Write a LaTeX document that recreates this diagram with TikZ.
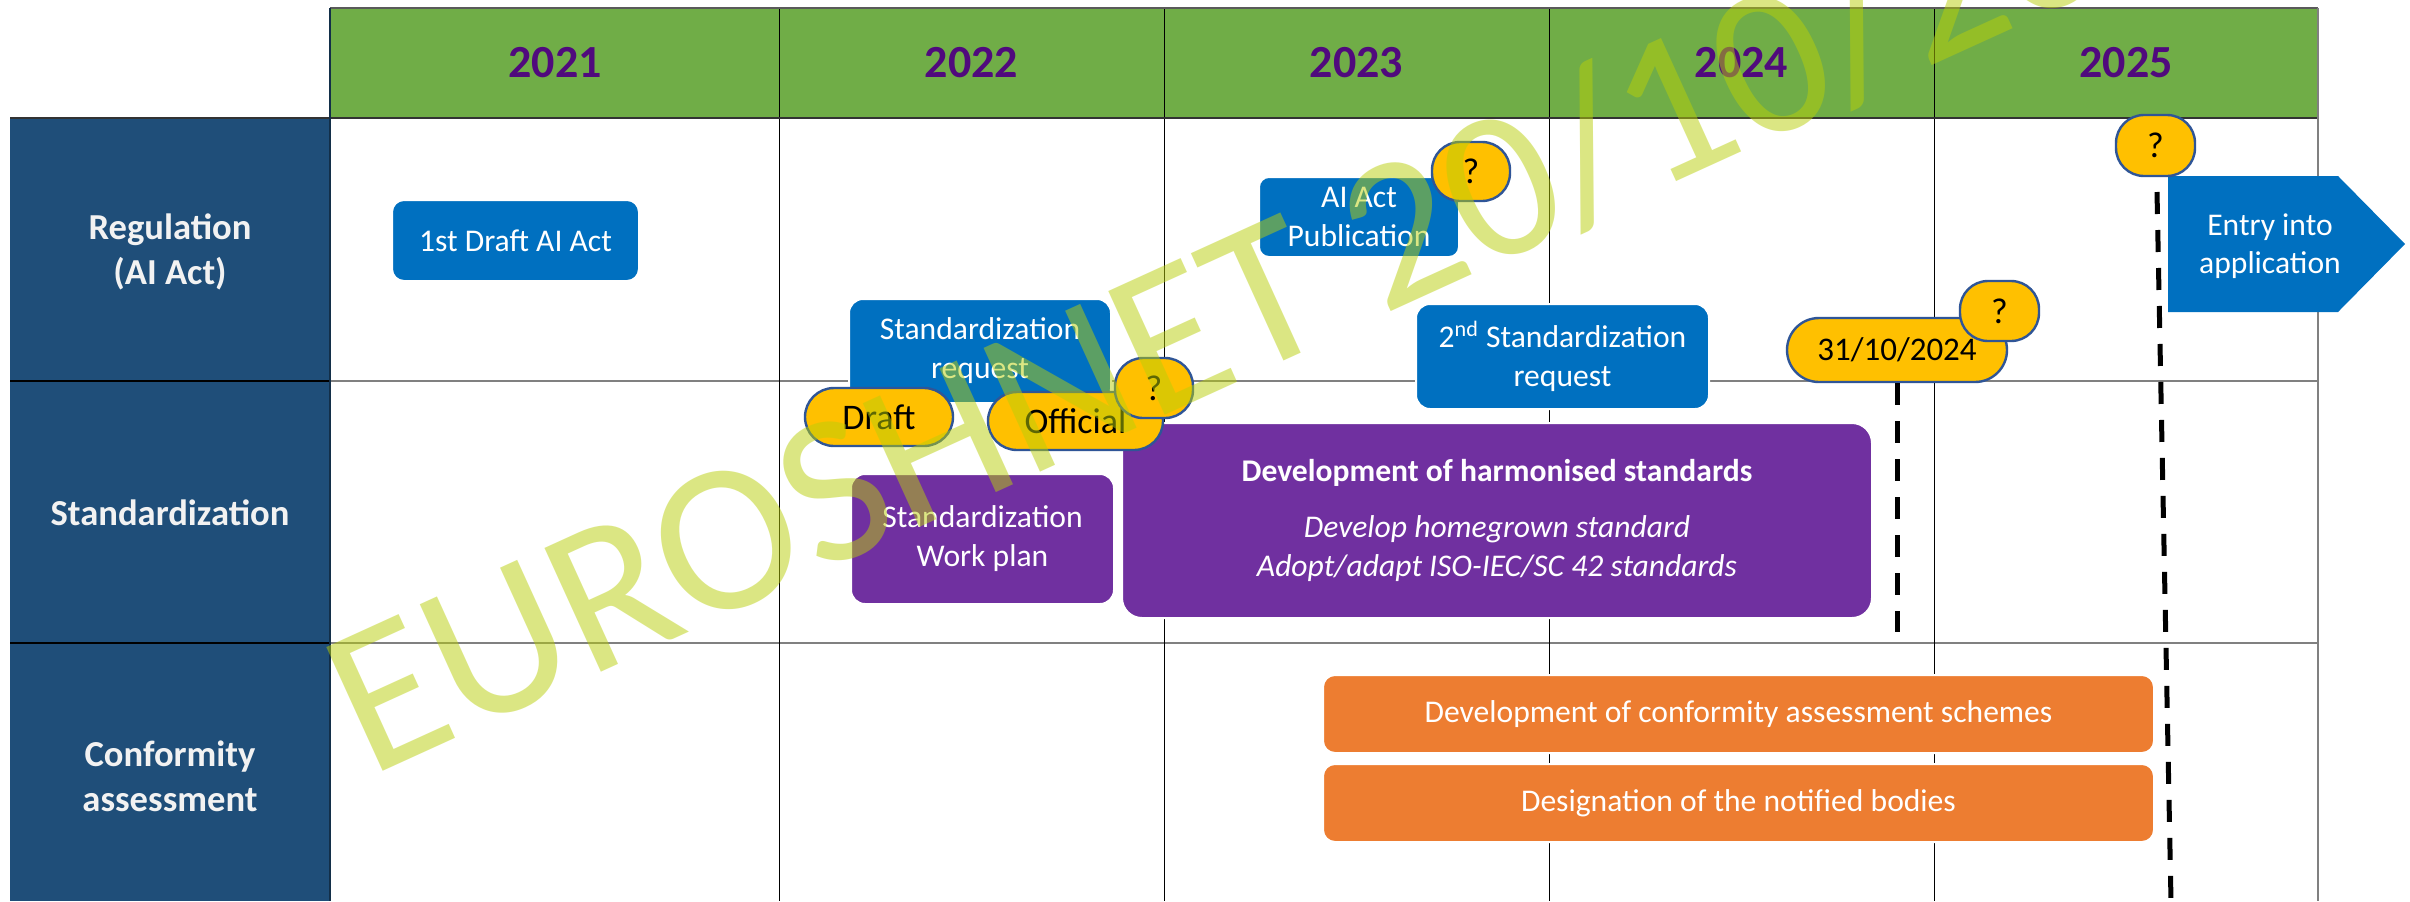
\documentclass[tikz,border=0pt]{standalone}
\usepackage{fontspec}
\setmainfont{Carlito}
\definecolor{hdrgreen}{RGB}{112,173,71}
\definecolor{navy}{RGB}{31,78,121}
\definecolor{boxblue}{RGB}{0,112,192}
\definecolor{boxpurple}{RGB}{112,48,160}
\definecolor{boxorange}{RGB}{237,125,49}
\definecolor{pillyellow}{RGB}{255,192,0}
\definecolor{pillborder}{RGB}{47,85,151}
\definecolor{yeartext}{RGB}{80,10,125}
\definecolor{labeltext}{RGB}{242,242,242}
\definecolor{wmark}{RGB}{185,207,9}
\definecolor{gridgray}{RGB}{128,128,128}
\tikzset{
  yearlabel/.style={text=yeartext, font=\fontsize{23}{27}\selectfont\bfseries, inner sep=0pt},
  rowlabel/.style={text=labeltext, font=\fontsize{18.3}{22.5}\selectfont\bfseries, align=center, inner sep=0pt},
  box/.style={rounded corners=6pt, inner sep=0pt, align=center, text=white,
              font=\fontsize{15.8}{19.5}\selectfont, draw=white, line width=1pt},
  bluebox/.style={box, fill=boxblue},
  purplebox/.style={box, fill=boxpurple},
  orangebox/.style={box, fill=boxorange},
  pill/.style={fill=pillyellow, draw=pillborder, line width=1.2pt, inner sep=0pt,
               text=black, font=\fontsize{18}{20}\selectfont},
  dashline/.style={draw=black, line width=2.5pt, dash pattern=on 11pt off 8pt},
  colline/.style={draw=black, line width=0.5pt},
  rowline/.style={draw=gridgray, line width=1pt},
}
\begin{document}
\begin{tikzpicture}[x=0.5pt, y=-0.5pt]
\useasboundingbox (0,0) rectangle (2410,901);
\clip (0,0) rectangle (2410,901);
\fill[white] (0,0) rectangle (2410,901);

% header and label column
\fill[hdrgreen] (330,8) rectangle (2318,118);
\fill[navy] (10,118) rectangle (330,901);

% grid lines
\draw[rowline] (330,381) -- (2318,381);
\draw[rowline] (330,643) -- (2318,643);
\draw[black, line width=1pt] (10,381) -- (330,381);
\draw[black, line width=1pt] (10,643) -- (330,643);
\foreach \cx in {779,1164,1549,1934} { \draw[colline] (\cx,8) -- (\cx,901); }
\draw[gridgray!70!black, line width=1pt] (330,8) -- (2318,8);
\draw[gridgray!40!black, line width=1pt] (10,118) -- (2318,118);
\draw[gridgray, line width=1pt] (2318,8) -- (2318,901);
\draw[navy!60!black, line width=0.8pt] (330,8) -- (330,901);

% years
\node[yearlabel] (y2021) at (555,63) {2021};
\node[yearlabel] (y2022) at (971.5,63) {2022};
\node[yearlabel] (y2023) at (1356.5,63) {2023};
\node[yearlabel] (y2024) at (1741.5,63) {2024};
\node[yearlabel] (y2025) at (2126,63) {2025};

% row labels
\node[rowlabel] (lreg) at (170,252) {Regulation\\(AI Act)};
\node[rowlabel] (lstd) at (170,513) {Standardization};
\node[rowlabel] (lconf) at (170,776) {Conformity\\assessment};

% boxes
\node[bluebox, minimum width=123.5pt, minimum height=40.5pt] (draftact) at (515.5,240.5) {1st Draft AI Act};
\node[bluebox, rounded corners=7pt, minimum width=131pt, minimum height=52pt] (stdreq) at (980,351) {Standardization\\request};
\node[purplebox, rounded corners=7pt, minimum width=131.5pt, minimum height=65pt] (workplan) at (982.5,539) {Standardization\\Work plan};
\node[purplebox, rounded corners=10pt, minimum width=375pt, minimum height=97.5pt] (harm) at (1497,520.5)
  {{\bfseries Development of harmonised standards}\\[8.5pt]
   {\itshape Develop homegrown standard}\\
   {\itshape Adopt/adapt ISO-IEC/SC 42 standards}};
\node[bluebox, rounded corners=5pt, minimum width=100pt, minimum height=40pt] (aipub) at (1359,217) {AI Act\\Publication};
\node[bluebox, rounded corners=7pt, minimum width=146.5pt, minimum height=52.5pt] (stdreq2) at (1562.5,356.5) {2\textsuperscript{nd} Standardization\\request};
\node[orangebox, minimum width=415.5pt, minimum height=39pt] (cas) at (1738.5,714) {Development of conformity assessment schemes};
\node[orangebox, minimum width=415.5pt, minimum height=39pt] (nb) at (1738.5,803) {Designation of the notified bodies};

% entry into application arrow
\fill[boxblue] (2168,176) -- (2338,176) -- (2405,244) -- (2338,312) -- (2168,312) -- cycle;
\node[text=white, font=\fontsize{15.8}{19}\selectfont, align=center, inner sep=0pt] (entry) at (2270,246) {Entry into\\application};

% pills
\node[pill, rounded corners=14.5pt, minimum width=74pt, minimum height=29pt] (draft) at (879,417) {Draft};
\node[pill, rounded corners=14.5pt, minimum width=87.5pt, minimum height=29pt] (official) at (1075.5,421) {Official};
\node[pill, rounded corners=14pt, minimum width=39pt, minimum height=30pt] (qoff) at (1154,388) {?};
\node[pill, rounded corners=14pt, minimum width=39pt, minimum height=29.5pt] (qpub) at (1471,171.5) {?};
\node[pill, rounded corners=16pt, minimum width=110pt, minimum height=32pt, font=\fontsize{16.5}{19}\selectfont] (date) at (1897,350) {31/10/2024};
\node[pill, rounded corners=14pt, minimum width=39.5pt, minimum height=30pt] (qdate) at (1999.5,311) {?};
\node[pill, rounded corners=14pt, minimum width=39.5pt, minimum height=30.5pt] (qentry) at (2155.5,145.5) {?};

% dashed milestone lines
\coordinate (dateend) at (1897,632);
\coordinate (entrytop) at (2157,192);
\coordinate (entryend) at (2171,901);
\draw[dashline] (date.south) -- (dateend);
\draw[dashline] (entrytop) -- (entryend);

% watermark
\node[text=wmark, text opacity=0.5, font=\fontsize{106}{110}\selectfont, rotate=24.5, anchor=base west, inner sep=0pt] (wm) at (369,778) {EUROSHNET 20/10/2022};
\end{tikzpicture}
\end{document}
